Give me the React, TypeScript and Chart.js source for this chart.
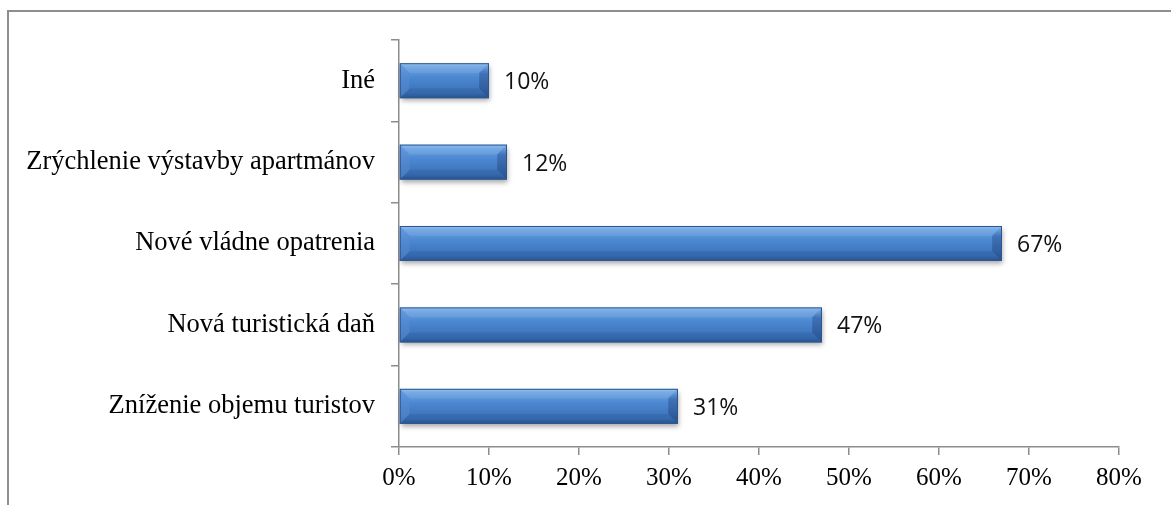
import React, { useEffect, useRef } from "react";
import { Chart, registerables } from "chart.js";

Chart.register(...registerables);

const categories = [
  "Iné",
  "Zrýchlenie výstavby apartmánov",
  "Nové vládne opatrenia",
  "Nová turistická daň",
  "Zníženie objemu turistov",
];
const values = [10, 12, 67, 47, 31];
const xMin = 0;
const xMax = 80;
const xStep = 10;

const AXIS = "#8c8c8c";

const bevelBars = {
  id: "bevelBars",
  afterDatasetsDraw(chart: any) {
    const ctx = chart.ctx;
    const meta = chart.getDatasetMeta(0);
    meta.data.forEach((el: any, i: number) => {
      const p = el.getProps(["x", "y", "base", "height"], true);
      const x0 = p.base;
      const x1 = p.x;
      const y0 = p.y - p.height / 2;
      const y1 = p.y + p.height / 2;
      const h = y1 - y0;
      const b = Math.min(h * 0.28, 10);
      ctx.save();
      ctx.shadowColor = "rgba(0,0,0,0.35)";
      ctx.shadowBlur = 5;
      ctx.shadowOffsetY = 3;
      ctx.shadowOffsetX = 1;
      const g = ctx.createLinearGradient(0, y0, 0, y1);
      g.addColorStop(0, "#8cbcef");
      g.addColorStop(0.1, "#6ca4e3");
      g.addColorStop(0.4, "#4c88d1");
      g.addColorStop(0.85, "#3a71b7");
      g.addColorStop(1, "#2c5a95");
      ctx.fillStyle = g;
      ctx.fillRect(x0, y0, x1 - x0, h);
      ctx.restore();
      ctx.save();
      // top bevel
      ctx.beginPath();
      ctx.moveTo(x0, y0);
      ctx.lineTo(x1, y0);
      ctx.lineTo(x1 - b, y0 + b);
      ctx.lineTo(x0 + b, y0 + b);
      ctx.closePath();
      ctx.fillStyle = "rgba(255,255,255,0.08)";
      ctx.fill();
      // bottom bevel
      ctx.beginPath();
      ctx.moveTo(x0, y1);
      ctx.lineTo(x1, y1);
      ctx.lineTo(x1 - b, y1 - b);
      ctx.lineTo(x0 + b, y1 - b);
      ctx.closePath();
      ctx.fillStyle = "rgba(10,30,80,0.1)";
      ctx.fill();
      // right bevel
      ctx.beginPath();
      ctx.moveTo(x1, y0);
      ctx.lineTo(x1, y1);
      ctx.lineTo(x1 - b, y1 - b);
      ctx.lineTo(x1 - b, y0 + b);
      ctx.closePath();
      const rg = ctx.createLinearGradient(0, y0, 0, y1);
      rg.addColorStop(0, "rgba(130,178,234,0.95)");
      rg.addColorStop(0.3, "rgba(62,112,182,0.95)");
      rg.addColorStop(1, "rgba(40,80,140,0.95)");
      ctx.fillStyle = rg;
      ctx.fill();
      // left bevel
      ctx.beginPath();
      ctx.moveTo(x0, y0);
      ctx.lineTo(x0, y1);
      ctx.lineTo(x0 + b, y1 - b);
      ctx.lineTo(x0 + b, y0 + b);
      ctx.closePath();
      ctx.fillStyle = "rgba(90,140,210,0.5)";
      ctx.fill();
      ctx.strokeStyle = "#2b5690";
      ctx.lineWidth = 1;
      ctx.strokeRect(x0 + 0.5, y0 + 0.5, x1 - x0 - 1, h - 1);
      ctx.restore();
      ctx.save();
      ctx.fillStyle = "#111";
      ctx.font = "23px 'Open Sans'";
      ctx.textAlign = "left";
      ctx.textBaseline = "middle";
      ctx.fillText(values[i] + "%", x1 + 15, p.y + 2);
      ctx.restore();
    });
  },
};

export default function App() {
  const ref = useRef<HTMLCanvasElement | null>(null);
  useEffect(() => {
    if (!ref.current) return;
    const chart = new Chart(ref.current, {
      type: "bar",
      data: {
        labels: categories,
        datasets: [
          {
            data: values,
            backgroundColor: "rgba(0,0,0,0)",
            borderWidth: 0,
            categoryPercentage: 1,
            barPercentage: 0.43,
          },
        ],
      },
      options: {
        indexAxis: "y",
        animation: false,
        responsive: false,
        layout: { padding: { top: 40, right: 52, bottom: 0, left: 0 } },
        plugins: { legend: { display: false }, tooltip: { enabled: false } },
        scales: {
          x: {
            type: "linear",
            min: xMin,
            max: xMax,
            afterFit: (s: any) => {
              s.height = 58;
            },
            ticks: {
              stepSize: xStep,
              callback: (v: any) => v + "%",
              color: "#000",
              font: { family: "'Liberation Serif'", size: 25 },
              padding: 8,
            },
            grid: { drawOnChartArea: false, color: AXIS, tickLength: 8, lineWidth: 1.5 },
            border: { color: AXIS, width: 1.5 },
          },
          y: {
            afterFit: (s: any) => {
              s.width = 399;
            },
            ticks: {
              color: "#000",
              font: { family: "'Liberation Serif'", size: 26.5 },
              padding: 16,
            },
            grid: { drawOnChartArea: false, color: AXIS, tickLength: 8, offset: true, lineWidth: 1.5 },
            border: { color: AXIS, width: 1.5 },
          },
        },
      },
      plugins: [bevelBars],
    });
    return () => chart.destroy();
  }, []);
  return (
    <div style={{ position: "fixed", left: 0, top: 0, width: 1171, height: 505, background: "#fff", overflow: "hidden" }}>
      <div
        style={{
          position: "absolute",
          left: 7,
          top: 10,
          width: 1200,
          height: 600,
          borderTop: "2px solid #8e8e8e",
          borderLeft: "2px solid #8e8e8e",
        }}
      />
      <canvas ref={ref} width={1171} height={505} style={{ position: "absolute", left: 0, top: 0, display: "block" }} />
    </div>
  );
}
